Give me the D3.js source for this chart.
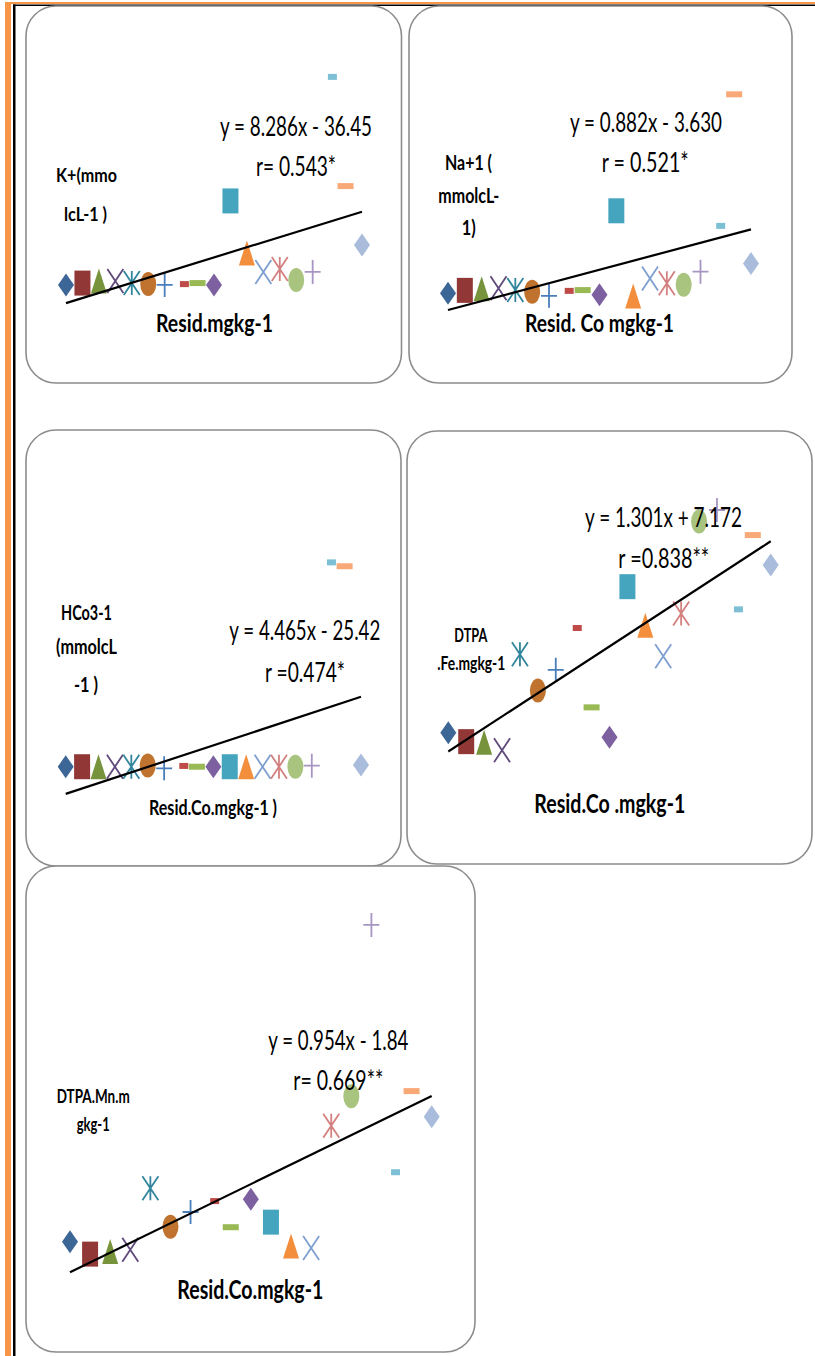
<!DOCTYPE html>
<html>
<head>
<meta charset="utf-8">
<script src="https://cdn.jsdelivr.net/npm/d3@7"></script>
<style>
  body { margin: 0; background: #fff; }
  svg { display: block; }
</style>
</head>
<body>
<div class="canvas"></div>
<script>
// Resid. Co, one point per sample, shared by every panel
const residCo = [0, 1, 2, 3, 4, 5, 6, 7.2, 8, 9, 10, 11, 12, 13, 14, 15, 16.2, 17, 18];

// y values (relative units)
const kPlus = [13.5, 14.2, 15.0, 15.0, 14.2, 13.8, 13.5, 13.8, 14.2, 13.5, 45.8, 25.8, 18.5, 19.6, 15.4, 18.5, 93.5, 51.5, 28.8];
const naPlus = [10.3, 11.4, 12.0, 12.2, 11.5, 10.9, 9.3, 11.2, 11.5, 9.7, 42.0, 9.2, 16.0, 14.1, 13.6, 18.6, 36.2, 86.8, 21.7];
const hco3 = [12.8, 12.8, 12.8, 12.8, 12.8, 13.3, 12.2, 13.1, 12.8, 12.8, 12.8, 12.8, 12.8, 12.8, 12.8, 13.2, 91.4, 89.9, 13.5];
const dtpaFe = [13.8, 10.5, 10.3, 7.3, 42.9, 29.4, 37.1, 52.6, 23.2, 12.1, 67.9, 53.6, 42.1, 58.0, 92.0, 96.3, 59.5, 87.0, 75.9];
const dtpaMn = [12.4, 9.2, 9.9, 10.3, 26.1, 16.2, 20.0, 22.8, 16.1, 23.3, 17.4, 11.3, 10.8, 42.1, 49.7, 93.6, 30.2, 51.0, 44.4];

const equations = ["y = 8.286x - 36.45", "y = 0.882x - 3.630", "y = 4.465x - 25.42", "y = 1.301x + 7.172", "y = 0.954x - 1.84"];
const rLabels = ["r= 0.543*", "r = 0.521*", "r =0.474*", "r =0.838**", "r= 0.669**"];
const yLabels = [["K+(mmo", "lcL-1 )"], ["Na+1 (", "mmolcL-", "1)"], ["HCo3-1", "(mmolcL", "-1 )"], ["DTPA", ".Fe.mgkg-1"], ["DTPA.Mn.m", "gkg-1"]];
const xLabels = ["Resid.mgkg-1", "Resid. Co mgkg-1", "Resid.Co.mgkg-1 )", "Resid.Co .mgkg-1", "Resid.Co.mgkg-1"];

// excel-style automatic markers, one per series
const markerShapes = ["diamond", "square", "triangle", "cross", "star", "circle", "plus", "shortDash", "longDash",
  "diamond", "square", "triangle", "cross", "star", "circle", "plus", "shortDash", "longDash", "diamond"];
const markerColours = ["#3c6696", "#913836", "#77933c", "#604a7b", "#31859c", "#c0732f", "#4a7ebb", "#be4b48", "#98b954",
  "#7d60a0", "#46a5be", "#f38e3c", "#7e9fd0", "#d3817f", "#a9c47f", "#a795c4", "#7dc0d6", "#f9a978", "#a9bcdb"];

const width = 815, height = 1356;

const svg = d3.select('.canvas')
  .append('svg')
  .attr('width', width)
  .attr('height', height);

// page borders (orange + black frame on the left/top)
svg.append('rect').attr('x', 5).attr('y', 2).attr('width', 6).attr('height', height).attr('fill', '#f79646');
svg.append('rect').attr('x', 5).attr('y', 2).attr('width', width).attr('height', 2).attr('fill', '#f79646');
svg.append('rect').attr('x', 13).attr('y', 4.5).attr('width', 2.5).attr('height', height).attr('fill', '#000');
svg.append('rect').attr('x', 13).attr('y', 4.5).attr('width', width).attr('height', 1.5).attr('fill', '#000');

// layout of each panel
const panels = [
  { values: kPlus, box: [26, 6, 375.5, 377], xr: [66, 362], yr: [320, 60],
    eq: [220, 135.5, 152], r: [256, 175.5, 80],
    ylab: [[56, 182, 61], [64, 221, 43]], ylabSize: 19,
    xlab: [156, 331.5, 117], xlabSize: 25 },
  { values: naPlus, box: [409, 6, 383, 377], xr: [448, 751], yr: [320, 60],
    eq: [570, 132.3, 152], r: [601.7, 172.3, 87],
    ylab: [[445, 170, 47], [438.3, 203.3, 61], [461.7, 235, 14]], ylabSize: 20,
    xlab: [525, 331.7, 149], xlabSize: 25 },
  { values: hco3, box: [26, 430, 375, 436], xr: [65.7, 361], yr: [800, 540],
    eq: [229.3, 640, 151], r: [265, 681.7, 80],
    ylab: [[61, 620, 51], [56, 654.3, 61], [74, 691.7, 24]], ylabSize: 20,
    xlab: [149, 815, 128], xlabSize: 21 },
  { values: dtpaFe, box: [407, 431, 405, 433], xr: [448.3, 770.7], yr: [770, 500],
    eq: [585, 526.7, 157], r: [618.3, 567.7, 91],
    ylab: [[454.3, 641.7, 33], [437.3, 670, 68]], ylabSize: 19,
    xlab: [534.3, 813.3, 151], xlabSize: 27 },
  { values: dtpaMn, box: [26, 866, 449, 486], xr: [70, 431.7], yr: [1290, 900],
    eq: [268.3, 1050, 140], r: [293.3, 1090, 90],
    ylab: [[56.7, 1102.7, 73], [76.7, 1130.7, 33]], ylabSize: 19,
    xlab: [177.3, 1299.3, 146], xlabSize: 26 }
];

const markerPath = {
  diamond: 'M0,-11.5L8,0L0,11.5L-8,0Z',
  square: 'M-8,-12.5H8V12.5H-8Z',
  triangle: 'M0,-12.5L8,12.5H-8Z',
  cross: 'M-8,-12L8,12M8,-12L-8,12',
  star: 'M-8,-12L8,12M8,-12L-8,12M0,-12V12',
  plus: 'M-8,0H8M0,-12V12',
  shortDash: 'M-4.5,-3H4.5V3H-4.5Z',
  longDash: 'M-8,-3H8V3H-8Z'
};
const stroked = ['cross', 'star', 'plus'];

// least squares line through the points of a panel
const fit = (xs, ys) => {
  const mx = d3.mean(xs), my = d3.mean(ys);
  const sxy = d3.sum(xs, (x, i) => (x - mx) * (ys[i] - my));
  const sxx = d3.sum(xs, x => (x - mx) * (x - mx));
  const b = sxy / sxx;
  return x => my + b * (x - mx);
};

const addText = (g, str, pos, size, weight) => {
  g.append('text')
    .attr('x', pos[0])
    .attr('y', pos[1])
    .attr('textLength', pos[2])
    .attr('lengthAdjust', 'spacingAndGlyphs')
    .attr('font-family', 'Lato, "Open Sans", sans-serif')
    .attr('font-size', size)
    .attr('font-weight', weight)
    .attr('fill', '#000')
    .text(str);
};

panels.forEach((p, k) => {
  const g = svg.append('g').attr('class', 'panel');

  g.append('rect')
    .attr('x', p.box[0]).attr('y', p.box[1])
    .attr('width', p.box[2]).attr('height', p.box[3])
    .attr('rx', 30).attr('ry', 30)
    .attr('fill', '#fff')
    .attr('stroke', '#8c8c8c')
    .attr('stroke-width', 1.6);

  const x = d3.scaleLinear().domain([0, 18]).range(p.xr);
  const y = d3.scaleLinear().domain([0, 100]).range(p.yr);

  const pts = residCo.map((v, i) => ({ x: v, y: p.values[i], shape: markerShapes[i], colour: markerColours[i] }));

  g.selectAll('.pt')
    .data(pts)
    .enter()
    .each(function(d) {
      const sel = d3.select(this);
      if (d.shape === 'circle') {
        sel.append('ellipse')
          .attr('class', 'pt')
          .attr('cx', x(d.x)).attr('cy', y(d.y))
          .attr('rx', 8).attr('ry', 12)
          .attr('fill', d.colour);
      } else {
        const isLine = stroked.includes(d.shape);
        sel.append('path')
          .attr('class', 'pt')
          .attr('transform', `translate(${x(d.x)}, ${y(d.y)})`)
          .attr('d', markerPath[d.shape])
          .attr('fill', isLine ? 'none' : d.colour)
          .attr('stroke', isLine ? d.colour : 'none')
          .attr('stroke-width', isLine ? 1.8 : 0);
      }
    });

  // trend line over the data range
  const f = fit(residCo, p.values);
  const ext = d3.extent(residCo);
  g.append('line')
    .attr('x1', x(ext[0])).attr('y1', y(f(ext[0])))
    .attr('x2', x(ext[1])).attr('y2', y(f(ext[1])))
    .attr('stroke', '#000')
    .attr('stroke-width', 2.2);

  addText(g, equations[k], p.eq, 26, 400);
  addText(g, rLabels[k], p.r, 26, 400);
  yLabels[k].forEach((line, j) => addText(g, line, p.ylab[j], p.ylabSize, 700));
  addText(g, xLabels[k], p.xlab, p.xlabSize, 700);
});
</script>
</body>
</html>
